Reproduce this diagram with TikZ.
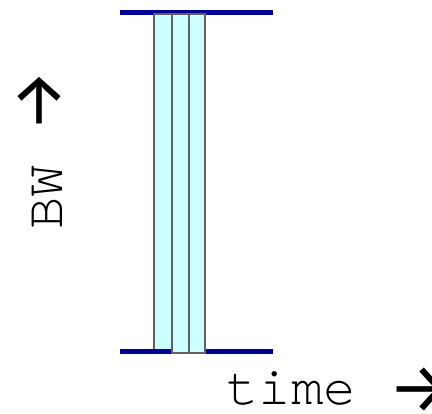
\documentclass[tikz,border=0pt]{standalone}
\usepackage{fontspec}
\setmonofont{TeX Gyre Cursor}
\newfontfamily\arrowfont{Fira Sans}
\definecolor{bwnavy}{HTML}{000090}
\definecolor{slotfill}{HTML}{CCFFFF}
\definecolor{slotedge}{HTML}{606060}
\newcommand{\bigarrowtxt}[1]{{\arrowfont\fontsize{70}{70}\selectfont #1}}
\tikzset{
  bwline/.style={draw=bwnavy, line width=5pt},
  slot/.style={fill=slotfill, draw=slotedge, line width=2pt},
  lbl/.style={font=\ttfamily\fontsize{54}{54}\selectfont, inner sep=0pt}
}
\begin{document}
\begin{tikzpicture}[x=1pt,y=-1pt]
\useasboundingbox (0,0) rectangle (432,414);
\draw[bwline] (120,13) -- (273,13);
\draw[slot] (153.5,14) rectangle (172,351);
\draw[bwline] (120,352) -- (273,352);
\draw[slot] (172,14) rectangle (188.5,353);
\draw[slot] (188.5,14) rectangle (205,353);
\node[lbl, anchor=base west] (time) at (226,405) {time \raisebox{-8pt}{\bigarrowtxt{→}}};
\node[lbl, rotate=90, anchor=base west] (bw) at (62,230) {BW \raisebox{-1pt}{\bigarrowtxt{→}}};
\end{tikzpicture}
\end{document}
